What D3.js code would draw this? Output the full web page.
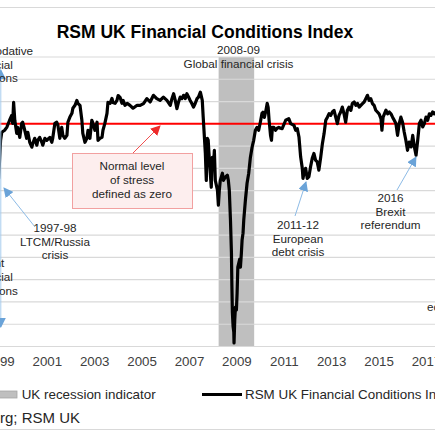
<!DOCTYPE html>
<html><head><meta charset="utf-8">
<script src="https://cdn.jsdelivr.net/npm/d3@7"></script>
<style>
html,body{margin:0;padding:0;background:#fff;overflow:hidden;}
svg{display:block;font-family:"Liberation Sans",Arial,sans-serif;}
</style></head><body>
<script>
// ---- data ----
const years = [1998.88,1998.97,1999.05,1999.10,1999.22,1999.31,1999.43,1999.52,1999.56,1999.60,1999.65,1999.73,1999.77,1999.86,1999.94,1999.98,
2000.07,2000.15,2000.20,2000.28,2000.37,2000.41,2000.49,2000.58,2000.62,2000.70,2000.79,2000.83,2000.92,
2001.00,2001.13,2001.21,2001.25,2001.34,2001.42,2001.47,2001.55,2001.63,2001.68,2001.76,2001.85,2001.89,2001.97,
2002.06,2002.10,2002.19,2002.27,2002.31,2002.40,2002.48,2002.52,2002.61,2002.69,2002.74,2002.82,2002.90,2002.95,
2003.03,2003.12,2003.16,2003.24,2003.33,2003.37,2003.45,2003.54,2003.58,2003.67,2003.75,2003.79,2003.88,2003.96,
2004.01,2004.09,2004.17,2004.22,2004.30,2004.39,2004.51,2004.64,2004.81,2004.94,
2005.08,2005.22,2005.36,2005.50,2005.64,2005.78,2005.92,
2006.07,2006.21,2006.28,2006.35,2006.42,2006.49,2006.56,2006.63,2006.70,2006.77,2006.84,2006.91,2006.98,
2007.05,2007.12,2007.19,2007.26,2007.34,2007.40,2007.48,2007.56,2007.60,2007.69,2007.73,2007.77,2007.81,2007.86,2007.94,2007.98,
2008.03,2008.07,2008.11,2008.20,2008.24,2008.28,2008.32,2008.41,2008.45,2008.53,2008.62,2008.66,2008.70,2008.75,2008.79,2008.81,2008.83,2008.86,2008.89,2008.90,2008.93,2008.96,
2009.00,2009.03,2009.06,2009.10,2009.14,2009.17,2009.21,2009.24,2009.28,2009.31,2009.38,2009.45,2009.52,2009.59,2009.66,2009.73,2009.80,2009.87,2009.94,
2010.01,2010.08,2010.12,2010.18,2010.23,2010.27,2010.30,2010.34,2010.38,2010.44,2010.48,2010.52,2010.58,2010.65,2010.72,2010.79,2010.86,2010.93,
2011.08,2011.21,2011.29,2011.43,2011.50,2011.57,2011.64,2011.71,2011.78,2011.81,2011.85,2011.92,2011.99,
2012.06,2012.13,2012.20,2012.27,2012.34,2012.41,2012.48,2012.56,2012.63,2012.70,2012.77,2012.84,2012.91,2012.98,
2013.05,2013.12,2013.19,2013.26,2013.33,2013.40,2013.47,2013.54,2013.61,2013.68,2013.75,2013.83,2013.89,2013.97,
2014.04,2014.11,2014.18,2014.25,2014.32,2014.39,2014.46,2014.53,2014.60,2014.67,2014.74,2014.81,2014.88,2014.95,
2015.02,2015.10,2015.14,2015.19,2015.31,2015.38,2015.45,2015.52,2015.59,2015.66,2015.73,2015.80,2015.87,2015.94,
2016.01,2016.08,2016.15,2016.22,2016.29,2016.37,2016.44,2016.51,2016.58,2016.65,2016.72,2016.79,2016.86,2016.93,
2017.00,2017.07,2017.14,2017.21,2017.28,2017.35,2017.42,2017.55];
const fci = [-0.29,-2.44,-0.74,-0.38,-0.29,-0.16,0.16,0.38,0.02,0.96,0.16,-0.43,-0.16,-0.61,0.02,0.07,
-0.29,-0.65,-0.38,-0.83,-1.05,-0.88,-0.65,-0.96,-0.74,-0.61,-0.83,-0.96,-0.65,
-0.74,-0.61,-0.83,-0.65,0.02,0.07,-0.07,-0.65,-0.16,-0.52,-0.65,-0.52,0.07,0.29,
0.47,0.70,0.83,1.05,0.92,0.83,0.16,-0.43,-0.83,-0.65,-0.29,-0.65,0.16,0.02,
-0.29,0.07,-0.74,-0.65,-0.61,-0.29,0.02,0.47,0.96,0.92,1.14,0.96,0.92,1.05,
1.27,1.19,0.92,1.05,0.83,0.92,0.83,0.70,0.83,0.83,
0.91,1.13,0.98,1.28,1.13,1.05,1.20,
1.05,0.83,1.13,1.35,1.05,0.68,0.98,1.20,1.13,1.28,1.13,1.35,1.20,
1.05,0.91,0.75,0.91,1.13,1.20,1.42,1.05,0.29,-1.33,-2.54,-0.65,-0.74,-1.63,-2.85,-1.51,
-1.96,-1.19,-2.54,-2.98,-3.65,-2.98,-2.54,-2.22,-2.54,-2.40,-2.31,-2.54,-2.98,-4.33,-5.76,-7.29,-8.46,-9.09,-9.35,-9.84,-8.81,-8.23,
-8.36,-7.60,-6.44,-6.26,-6.08,-6.44,-5.81,-5.22,-4.91,-4.33,-3.43,-2.67,-2.22,-1.51,-1.06,-0.74,-0.29,-0.16,-0.29,
0.07,0.47,0.52,0.29,0.52,0.74,0.92,0.74,0.16,-0.52,-0.74,-0.16,-0.16,-0.29,-0.20,-0.16,-0.20,-0.22,
0.16,0.23,0.01,-0.07,-0.29,-0.22,-0.59,-1.48,-2.00,-2.45,-2.22,-2.00,-2.45,
-2.37,-1.93,-1.55,-1.33,-1.63,-1.71,-2.08,-1.48,-0.88,-0.44,0.16,0.30,0.45,0.38,
0.53,0.60,0.30,0.01,0.38,0.53,0.75,0.45,0.07,0.60,0.75,0.60,0.91,0.98,
0.83,0.91,0.75,0.83,0.91,0.98,1.13,1.28,1.05,1.13,0.91,0.83,0.61,0.53,
0.45,0.23,-0.29,0.30,0.61,0.45,0.53,0.45,0.30,0.16,0.01,-0.52,0.01,0.30,
0.07,-0.37,-0.74,-1.19,-0.82,-1.04,-0.52,-1.04,-1.41,-0.74,0.01,0.16,-0.14,0.01,
0.30,0.16,0.45,0.38,0.53,0.45,0.53,0.60];
const recession = [2008.25, 2009.75];
const xTickYears = [1999,2001,2003,2005,2007,2009,2011,2013,2015,2017];
const yGridValues = [3,2,1,0,-1,-2,-3,-4,-5,-6,-7,-8,-9,-10];
const title = "RSM UK Financial Conditions Index";

// ---- drawing ----
const W = 435, H = 435;
const svg = d3.select("body").append("svg").attr("width", W).attr("height", H);

const x = d3.scaleLinear().domain([1999, 2017]).range([46.8 - 2*23.7, 46.8 + 16*23.7]);
const y = d3.scaleLinear().domain([-10, 3]).range([346.5, 57]);

// chart frame lines
svg.append("line").attr("x1",0).attr("x2",W).attr("y1",7.5).attr("y2",7.5).attr("stroke","#d9d9d9");
svg.append("line").attr("x1",0).attr("x2",W).attr("y1",429.5).attr("y2",429.5).attr("stroke","#d9d9d9");

// recession band
svg.append("rect").attr("x", x(recession[0])).attr("width", x(recession[1]) - x(recession[0]))
  .attr("y", y(3)).attr("height", y(-10) - y(3)).attr("fill", "#bfbfbf");

// gridlines
svg.append("g").selectAll("line").data(yGridValues.filter(v => v !== 0)).join("line")
  .attr("x1", 0).attr("x2", W).attr("y1", d => y(d)).attr("y2", d => y(d))
  .attr("stroke", "#d9d9d9").attr("stroke-width", 1.2);

// x axis labels
const xAxis = d3.axisBottom(x).tickValues(xTickYears).tickFormat(d3.format("d")).tickSize(0).tickPadding(10);
const gx = svg.append("g").attr("transform", `translate(0,${y(-10)})`).call(xAxis);
gx.select(".domain").remove();
gx.selectAll("text").attr("font-size", 13.3).attr("fill", "#404040")
  .attr("font-family", '"Liberation Sans",Arial,sans-serif');

// zero line
svg.append("line").attr("x1",0).attr("x2",W).attr("y1",y(0)).attr("y2",y(0))
  .attr("stroke","#ff0000").attr("stroke-width",2);

// index line
const pts = years.map((t,i) => [t, fci[i]]);
svg.append("path").datum(pts)
  .attr("d", d3.line().x(d => x(d[0])).y(d => y(d[1])))
  .attr("fill","none").attr("stroke","#000").attr("stroke-width",3.2).attr("stroke-linejoin","round");

// arrows
const defs = svg.append("defs");
function marker(id, color){
  defs.append("marker").attr("id", id).attr("viewBox","0 0 10 10").attr("refX",9).attr("refY",5)
    .attr("markerWidth",10).attr("markerHeight",10).attr("markerUnits","userSpaceOnUse").attr("orient","auto-start-reverse")
    .append("path").attr("d","M0,0L10,5L0,10Z").attr("fill",color);
}
marker("blueHead","#6aa3d8");
marker("redHead","#ee2a2a");
function arrow(x1,y1,x2,y2,color,head,both){
  const l = svg.append("line").attr("x1",x1).attr("y1",y1).attr("x2",x2).attr("y2",y2)
    .attr("stroke",color).attr("stroke-width",1).attr("marker-end",`url(#${head})`);
  if(both) l.attr("marker-start",`url(#${head})`);
}
arrow(0.8, 70, 0.8, 327, "#a9cdee", "blueHead", true);
arrow(35, 227, 4, 188, "#8dbbe6", "blueHead");
arrow(295, 216, 306, 182, "#8dbbe6", "blueHead");
arrow(397, 190, 416, 157, "#8dbbe6", "blueHead");

// annotation box
svg.append("rect").attr("x",72.5).attr("y",153.5).attr("width",120).attr("height",55)
  .attr("fill","#fdeeee").attr("stroke","#f2a0a0").attr("stroke-width",1);
arrow(133, 153, 160, 126, "#f05050", "redHead");

function lines(cx, ys, arr, size, anchor){
  arr.forEach((s,i) => svg.append("text").attr("x",cx).attr("y",ys[i]).attr("text-anchor",anchor||"middle")
    .attr("font-size",size||11.7).attr("fill","#262626").text(s));
}
lines(132, [170,184,198], ["Normal level","of stress","defined as zero"]);
lines(-8.5, [55,68.5,82], ["Accommodative","financial","conditions"]);
lines(-8.5, [267,281,295], ["Tight","financial","conditions"]);
lines(238.5, [54,67.5], ["2008-09","Global financial crisis"]);
lines(55, [232,245.5,259], ["1997-98","LTCM/Russia","crisis"]);
lines(298, [229,242.5,256], ["2011-12","European","debt crisis"]);
lines(390.5, [202,215.5,229], ["2016","Brexit","referendum"]);
lines(427, [311], ["economic"], 11.7, "start");

// title
svg.append("text").attr("x",205).attr("y",38).attr("text-anchor","middle")
  .attr("font-size",17.5).attr("font-weight","bold").attr("fill","#000").text(title);

// legend
svg.append("rect").attr("x",-20).attr("y",391).attr("width",37).attr("height",7)
  .attr("fill","#bfbfbf").attr("stroke","#a6a6a6").attr("stroke-width",0.8);
svg.append("text").attr("x",21.7).attr("y",399).attr("font-size",13.4).attr("fill","#262626").text("UK recession indicator");
svg.append("line").attr("x1",202).attr("x2",242).attr("y1",394.5).attr("y2",394.5).attr("stroke","#000").attr("stroke-width",3);
svg.append("text").attr("x",245).attr("y",399).attr("font-size",13.4).attr("fill","#262626").text("RSM UK Financial Conditions Index");

// source
svg.append("text").attr("x",80).attr("y",423).attr("text-anchor","end").attr("font-size",15).attr("fill","#262626")
  .text("Source: Bloomberg; RSM UK");
</script>
</body></html>
